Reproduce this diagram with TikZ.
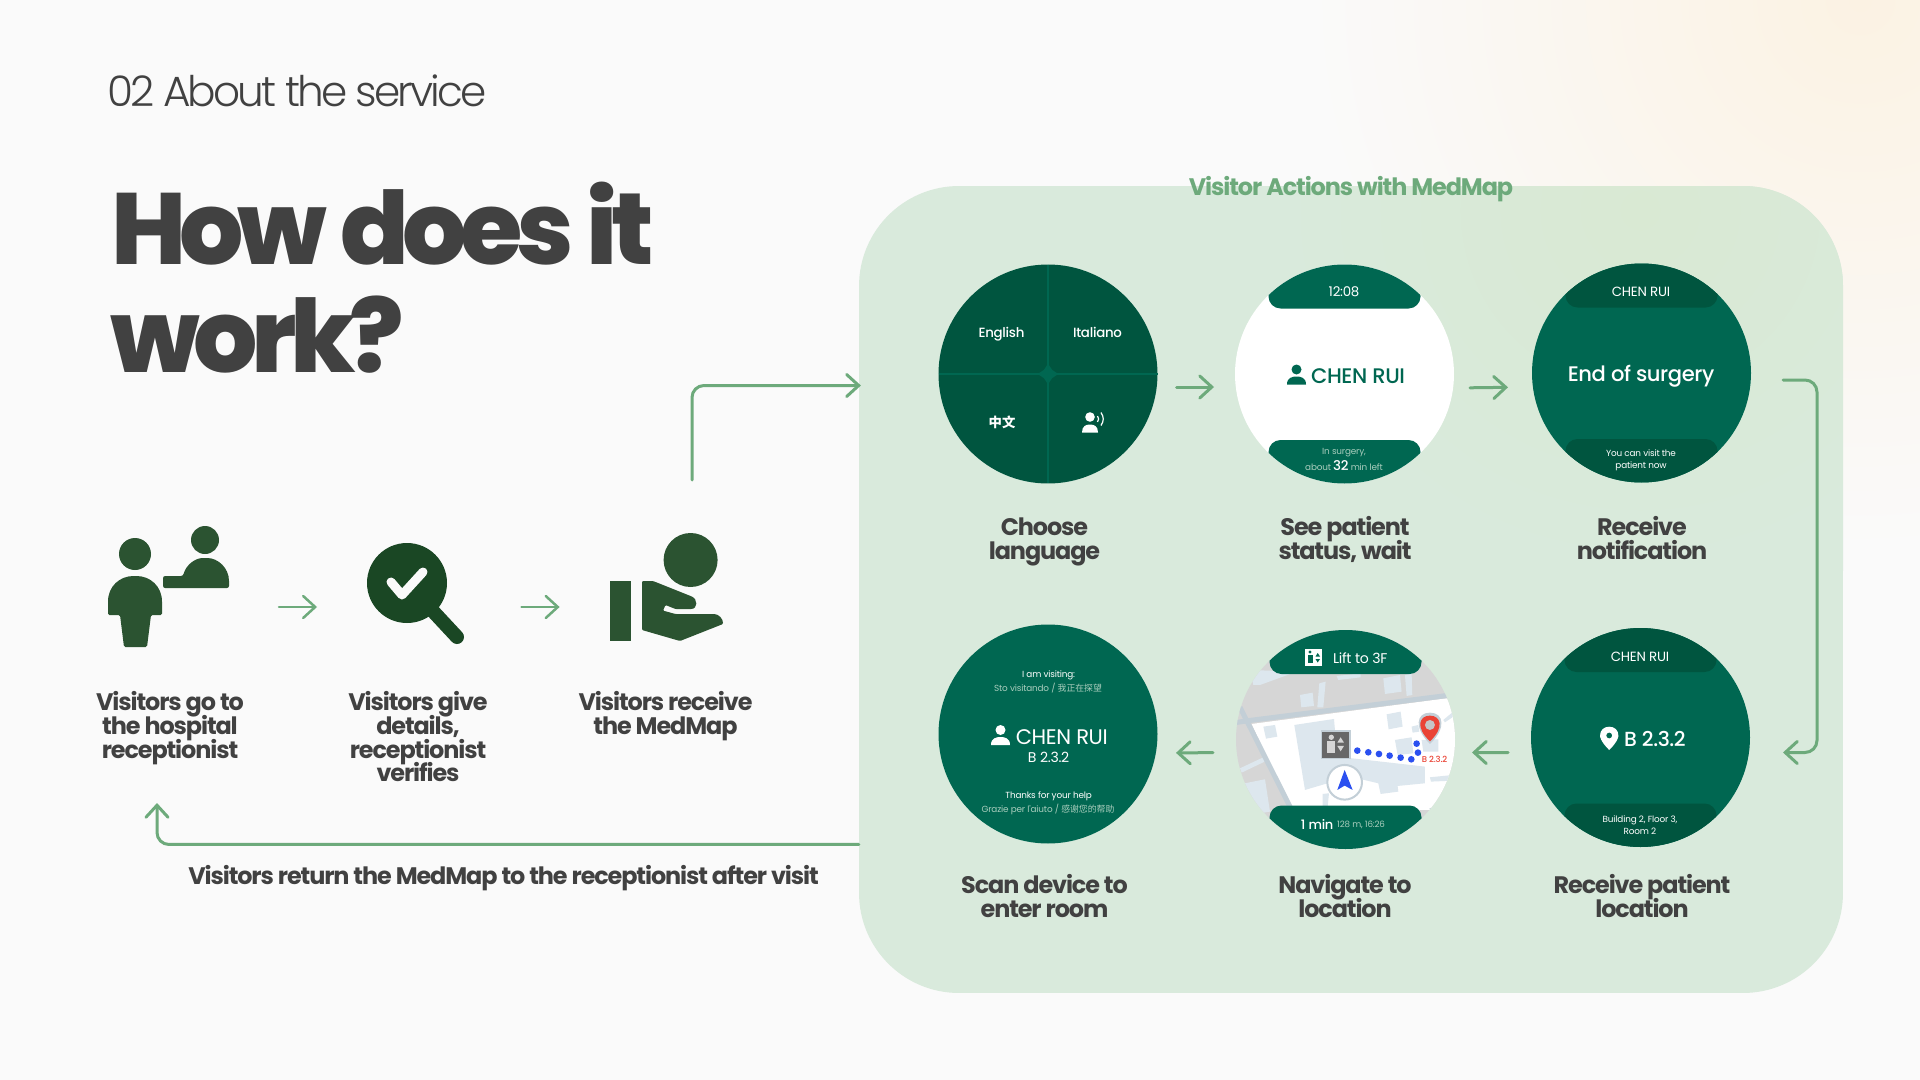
\documentclass[tikz,border=0pt]{standalone}
\usepackage{fontspec}
\usepackage{tikz}
\usetikzlibrary{arrows.meta,calc,shapes.geometric}
\setmainfont{Poppins}
\newfontfamily\lightface{Poppins Light}[LetterSpace=-6.8]
\newfontfamily\semiface{Poppins}[UprightFont=* Bold,LetterSpace=-4.6]
\newfontfamily\heavyface{Poppins ExtraBold}[LetterSpace=-6.35]
\newfontfamily\watchface{Poppins}[LetterSpace=-2]
\newfontfamily\watchmed{Poppins Medium}[LetterSpace=-2]
\newfontfamily\cjkface{Noto Sans CJK SC}
\lineskiplimit=-50pt
\definecolor{pagebg}{HTML}{FAFAFA}
\definecolor{glow}{HTML}{FBF2E3}
\definecolor{panelgreen}{HTML}{D9EADC}
\definecolor{panelglow}{HTML}{D9E9D3}
\definecolor{flowgreen}{HTML}{6DAA7B}
\definecolor{inkgrey}{HTML}{414141}
\definecolor{watchdark}{HTML}{00553F}
\definecolor{watchmid}{HTML}{006751}
\definecolor{softtext}{HTML}{A9CDBD}
\definecolor{iconmoss}{HTML}{2B5331}
\definecolor{iconpine}{HTML}{1A4724}
\definecolor{mapgrey}{HTML}{D6D6D6}
\definecolor{maplot}{HTML}{DDE7EE}
\definecolor{maproad}{HTML}{C3CFD7}
\definecolor{navblue}{HTML}{2B50F0}
\definecolor{pinred}{HTML}{EA4335}
\tikzset{
  flow/.style={draw=flowgreen,line width=0.15cm,line cap=round,rounded corners=0.6cm,
    -{Straight Barb[length=0.6cm,width=1.1cm,line cap=round]}},
  watch/.style={circle,minimum size=10.95cm,inner sep=0pt,outer sep=0pt},
  stepicon/.style={inner sep=0pt,outer sep=0pt},
  stepcap/.style={font=\semiface\fontsize{34}{34}\selectfont,text=inkgrey,align=center,inner sep=0pt,anchor=north},
  watchtxt/.style={text=white,inner sep=0pt,align=center,font=\watchface\fontsize{19}{19}\selectfont},
  smalltxt/.style={watchtxt,font=\watchface\fontsize{12.6}{17.4}\selectfont},
  softtxt/.style={smalltxt,text=softtext},
  mapblock/.style={fill=maplot}
}
\begin{document}
\begin{tikzpicture}[x=0.05cm,y=-0.05cm,>=Latex]
  \def\Rw{109.5}
  % person mark: x, y of the head, colour
  \def\PersonMark#1#2#3{
    \fill[#3] (#1,#2) circle[radius=5];
    \fill[#3] (#1-9.5,#2+15) .. controls (#1-9.5,#2+8) and (#1-4,#2+7) .. (#1,#2+7)
      .. controls (#1+4,#2+7) and (#1+9.5,#2+8) .. (#1+9.5,#2+15) -- cycle;
  }
  % bands at top and bottom of a watch face
  \def\WatchBands#1#2{
    \begin{scope}
      \clip (#1.center) circle[radius=\Rw];
      \fill[#2,rounded corners=0.6cm] ($(#1.center)+(-76,-130)$) rectangle ($(#1.center)+(76,-65.5)$);
      \fill[#2,rounded corners=0.6cm] ($(#1.center)+(-76,66)$) rectangle ($(#1.center)+(76,130)$);
    \end{scope}
  }
  \useasboundingbox (0,0) rectangle (1920,1080);

  % ================= page and panel =================
  \fill[pagebg] (0,0) rectangle (1920,1080);
  \begin{scope}
    \clip (0,0) rectangle (1920,1080);
    \shade[inner color=glow,outer color=pagebg] (1310,-550) rectangle (2410,550);
  \end{scope}
  \node[fill=panelgreen,rounded corners=5cm,minimum width=49.2cm,minimum height=40.35cm,inner sep=0pt] (panel) at (1351,589.5) {};
  \begin{scope}
    \clip[rounded corners=5cm] (859,186) rectangle (1843,993);
    \shade[inner color=panelglow,outer color=panelgreen] (1280,-150) rectangle (2000,570);
  \end{scope}
  \node[font=\semiface\fontsize{34}{34}\selectfont,text=flowgreen,inner sep=0pt] (paneltitle) at (1351,189) {Visitor Actions with MedMap};

  % ================= headings =================
  \node[anchor=base west,inner sep=0pt,text=inkgrey,font=\lightface\fontsize{60}{60}\selectfont] (section) at (107,106.5) {02 About the service};
  \node[anchor=base west,inner sep=0pt,text=inkgrey,font=\heavyface\fontsize{144}{144}\selectfont] (headone) at (111,264) {How does it};
  \node[anchor=base west,inner sep=0pt,text=inkgrey,font=\heavyface\fontsize{144}{144}\selectfont] (headtwo) at (110,372) {work?};

  % ================= left icons =================
  \node[stepicon,minimum width=6cm,minimum height=6cm] (visitor) at (168,590) {};
  \node[stepicon,minimum width=4.9cm,minimum height=6cm] (details) at (416,590) {};
  \node[stepicon,minimum width=5.7cm,minimum height=6cm] (medmap) at (666,590) {};
  % visitor and receptionist
  \fill[iconmoss] (135,554) circle[radius=16];
  \fill[iconmoss,rounded corners=2pt] (108,615) -- (108,603) .. controls (108,586) and (120,576) .. (135,576)
    .. controls (150,576) and (162,586) .. (162,603) -- (162,615) -- (151,615) -- (147,647) -- (124,647) -- (120,615) -- cycle;
  \fill[iconmoss] (205,540) circle[radius=14];
  \fill[iconmoss,rounded corners=3pt] (163,576) -- (183,576) .. controls (186,565) and (195,558) .. (205,558)
    .. controls (218,558) and (229,568) .. (229,583) -- (229,588) -- (163,588) -- cycle;
  % magnifier
  \draw[iconpine,line width=0.7cm,line cap=round] (430,608) -- (457,637);
  \fill[iconpine] (407,583) circle[radius=40];
  \draw[pagebg,line width=0.45cm,line cap=round,line join=round] (391,582) -- (402,595) -- (423,572);
  % hand with device
  \fill[iconmoss] (690.6,560) circle[radius=27];
  \fill[iconmoss] (609.5,581) rectangle (631,641);
  \fill[iconmoss,rounded corners=1.5pt] (642,581) -- (653,581) -- (690.6,596) .. controls (698,599) and (698,609) .. (690,609)
    -- (675.4,609) -- (665.5,605) -- (663,610.6) -- (675.4,614) -- (713,614) .. controls (719,614) and (723,619) .. (723,624)
    -- (680,641) -- (642,630) -- cycle;
  \draw[flow,line width=0.125cm,shorten <=2.55cm,shorten >=2.5cm] ([yshift=-0.85cm]visitor.east) -- ([yshift=-0.85cm]details.west);
  \draw[flow,line width=0.125cm,shorten <=2.825cm,shorten >=2.47cm] ([yshift=-0.85cm]details.east) -- ([yshift=-0.85cm]medmap.west);

  % ================= left captions =================
  \node[stepcap] (capvisit) at (170,691) {Visitors go to\\the hospital\\receptionist};
  \node[stepcap] (capgive) at (418,691) {Visitors give\\details,\\receptionist\\verifies};
  \node[stepcap] (capget) at (665.5,691) {Visitors receive\\the MedMap};
  \node[stepcap] (capback) at (503.5,865) {Visitors return the MedMap to the receptionist after visit};

  % ================= watch 1: language =================
  \node[watch,fill=watchdark] (lang) at (1048,374) {};
  \draw[watchmid,line width=0.1cm] (lang.north) -- (lang.south);
  \draw[watchmid,line width=0.1cm] (lang.west) -- (lang.east);
  \fill[watchmid] (1034,374) .. controls (1041.7,374) and (1048,367.7) .. (1048,360)
    .. controls (1048,367.7) and (1054.3,374) .. (1062,374)
    .. controls (1054.3,374) and (1048,380.3) .. (1048,388)
    .. controls (1048,380.3) and (1041.7,374) .. (1034,374) -- cycle;
  \node[watchtxt,font=\watchmed\fontsize{19}{19}\selectfont] (english) at (1001.5,334) {English};
  \node[watchtxt,font=\watchmed\fontsize{19}{19}\selectfont] (italiano) at (1097.5,332) {Italiano};
  \node[watchtxt,font=\cjkface\bfseries\fontsize{19}{19}\selectfont] (zhong) at (1002,422.7) {中文};
  \fill[white] (1090,417) circle[radius=4.8];
  \fill[white] (1082,432.5) .. controls (1082,426) and (1086,424.5) .. (1090,424.5)
    .. controls (1094,424.5) and (1098,426) .. (1098,432.5) -- cycle;
  \draw[white,line width=0.06cm] (1097.5,416) .. controls (1099,418) and (1099,420) .. (1097.5,422);
  \draw[white,line width=0.06cm] (1101,412.5) .. controls (1104,417) and (1104,421) .. (1101,425.5);

  % ================= watch 2: status =================
  \node[watch,fill=white] (status) at (1344.5,374) {};
  \WatchBands{status}{watchmid}
  \node[watchtxt] (clock) at (1344,292) {12:08};
  \PersonMark{1296.5}{369.5}{watchmid}
  \node[anchor=west,inner sep=0pt,text=watchmid,font=\watchmed\fontsize{30}{30}\selectfont] (statusname) at (1311,376) {CHEN RUI};
  \node[softtxt] (insurgery) at (1344,453) {In surgery,};
  \node[softtxt] (minleft) at (1344,466) {about {\textcolor{white}{\watchmed\fontsize{19}{19}\selectfont 32}} min left};

  % ================= watch 3: notification =================
  \node[watch,fill=watchmid] (notify) at (1641.5,373) {};
  \WatchBands{notify}{watchdark}
  \node[watchtxt] (notifyname) at (1641,292) {CHEN RUI};
  \node[watchtxt,font=\watchmed\fontsize{30}{30}\selectfont] (endsurgery) at (1641,376.5) {End of surgery};
  \node[smalltxt] (visitnow) at (1641,460) {You can visit the\\patient now};

  % ================= watch 4: scan =================
  \node[watch,fill=watchmid] (scan) at (1048,734) {};
  \node[smalltxt] (visiting) at (1048.6,675) {I am visiting:};
  \node[softtxt] (visitingit) at (1048,688) {Sto visitando / {\cjkface 我正在探望}};
  \PersonMark{1000.5}{730}{white}
  \node[anchor=west,inner sep=0pt,text=white,font=\watchface\fontsize{30}{30}\selectfont] (scanname) at (1015.7,737) {CHEN RUI};
  \node[watchtxt,font=\watchface\fontsize{20}{20}\selectfont] (scanroom) at (1048.6,757.5) {B 2.3.2};
  \node[smalltxt] (thanks) at (1048.6,796) {Thanks for your help};
  \node[softtxt] (thanksit) at (1048,809) {Grazie per l'aiuto / {\cjkface 感谢您的帮助}};

  % ================= watch 5: map =================
  \node[watch,fill=mapgrey] (nav) at (1345.5,739.5) {};
  \begin{scope}
    \clip (nav.center) circle[radius=\Rw];
    % map coordinates follow the crop of this face
    \begin{scope}[shift={(1230,620)},x=0.016667cm,y=-0.016667cm]
      \fill[white] (65,312) -- (650,235) -- (720,300) -- (720,570) -- (185,570) -- cycle;
      \fill[mapblock] (60,150) -- (200,155) -- (90,195) -- (70,195) -- cycle;
      \fill[mapblock] (320,168) -- (392,160) -- (392,172) -- (325,180) -- cycle;
      \fill[mapblock] (460,175) -- (510,165) -- (515,215) -- (465,222) -- cycle;
      \fill[mapblock] (525,165) -- (545,160) -- (547,225) -- (530,228) -- cycle;
      \fill[mapblock] (210,225) -- (248,218) -- (252,258) -- (214,262) -- cycle;
      \fill[mapblock] (268,190) -- (287,185) -- (280,262) -- (262,262) -- cycle;
      \fill[mapblock] (100,320) -- (135,315) -- (142,350) -- (108,356) -- cycle;
      \fill[mapblock] (193,315) -- (312,297) -- (322,410) -- (585,440) -- (585,490) -- (503,498)
        -- (505,515) -- (452,522) -- (445,490) -- (360,470) -- (225,510) -- cycle;
      \fill[mapblock] (470,283) -- (512,275) -- (518,320) -- (476,328) -- cycle;
      \fill[mapblock] (495,360) -- (545,352) -- (550,400) -- (503,405) -- cycle;
      \fill[mapblock] (545,320) -- (565,315) -- (568,335) -- (548,338) -- cycle;
      \fill[mapblock] (575,360) -- (625,358) -- (625,395) -- (580,395) -- cycle;
      \fill[mapblock] (600,472) -- (670,465) -- (670,482) -- (603,485) -- cycle;
      \fill[mapblock] (640,300) -- (670,275) -- (675,287) -- (645,307) -- cycle;
      \fill[mapblock] (278,522) -- (297,520) -- (293,560) -- (278,560) -- cycle;
      \fill[mapblock] (45,490) -- (105,478) -- (120,575) -- (60,585) -- cycle;
      \fill[mapblock] (30,445) -- (100,412) -- (104,425) -- (35,458) -- cycle;
      \draw[maproad,line width=0.25cm] (-10,312) -- (55,302) -- (640,228) -- (720,220);
      \draw[maproad,line width=0.25cm] (30,262) -- (185,570);
      \draw[maproad,line width=0.25cm] (600,572) -- (680,562);
      % lift marker
      \fill[gray!60!black!85,draw=maproad,line width=0.08cm] (274,333) rectangle (360,416);
      \fill[mapgrey] (304,352) circle[radius=8];
      \fill[mapgrey] (291,364) rectangle (316,400);
      \fill[mapgrey] (322,368) -- (342,368) -- (332,352) -- cycle;
      \fill[mapgrey] (322,378) -- (342,378) -- (332,394) -- cycle;
      % route
      \foreach \px/\py in {382/392,415/397,447/402,479/407,512/413,544/418,564/398,560/371}
        \fill[navblue] (\px,\py) circle[radius=10];
      % own position
      \draw[maproad,fill=white,line width=0.1cm] (344,487) circle[radius=52];
      \fill[navblue] (344,450) -- (368,510) -- (344,497) -- (322,510) -- cycle;
      % destination pin
      \fill[maproad] (600,278) .. controls (642,278) and (650,325) .. (600,372) .. controls (552,325) and (558,278) .. (600,278) -- cycle;
      \fill[pinred] (600,287) .. controls (632,287) and (645,322) .. (600,364) .. controls (555,322) and (568,287) .. (600,287) -- cycle;
      \fill[mapgrey!80!gray] (600,315) circle[radius=15];
    \end{scope}
  \end{scope}
  \node[inner sep=0pt,text=pinred,font=\watchmed\fontsize{12}{12}\selectfont] (pinroom) at (1434.5,759) {B 2.3.2};
  \WatchBands{nav}{watchmid}
  \fill[white] (1305,649) rectangle (1322,666);
  \fill[watchmid] (1310,652) circle[radius=1.7];
  \fill[watchmid] (1307.5,654.5) rectangle (1312.5,663);
  \fill[watchmid] (1315.5,656.5) -- (1320,656.5) -- (1317.7,653) -- cycle;
  \fill[watchmid] (1315.5,659) -- (1320,659) -- (1317.7,662.5) -- cycle;
  \node[watchtxt,anchor=west,font=\watchface\fontsize{20}{20}\selectfont] (lifttext) at (1333,658) {Lift to 3F};
  \node[watchtxt,anchor=west,font=\watchmed\fontsize{18.5}{18.5}\selectfont] (minutes) at (1300.7,824) {1 min};
  \node[softtxt,anchor=west,font=\watchface\fontsize{12.4}{12.4}\selectfont] (distance) at (1337,825) {128 m, 16:26};

  % ================= watch 6: location =================
  \node[watch,fill=watchmid] (locate) at (1640.5,737.5) {};
  \WatchBands{locate}{watchdark}
  \node[watchtxt] (locatename) at (1640,657) {CHEN RUI};
  \fill[white,even odd rule] (1609.2,750) .. controls (1600,741) and (1600,736) .. (1600,735.8)
    .. controls (1600,730) and (1604,726.7) .. (1609.2,726.7)
    .. controls (1614.5,726.7) and (1618.4,730) .. (1618.4,735.8)
    .. controls (1618.4,736) and (1618.4,741) .. (1609.2,750) -- cycle
    (1609.2,735.5) circle[radius=3];
  \node[anchor=west,inner sep=0pt,text=white,font=\watchmed\fontsize{29}{29}\selectfont] (locateroom) at (1624,738.5) {B 2.3.2};
  \node[smalltxt] (building) at (1640,825) {Building 2, Floor 3,\\Room 2};

  % ================= captions in the panel =================
  \node[stepcap] (capchoose) at (1044.5,518) {Choose\\language};
  \node[stepcap] (capsee) at (1345,516) {See patient\\status, wait};
  \node[stepcap] (capnotify) at (1642,516) {Receive\\notification};
  \node[stepcap] (capscan) at (1044.5,874.5) {Scan device to\\enter room};
  \node[stepcap] (capnav) at (1345,874.5) {Navigate to\\location};
  \node[stepcap] (caplocate) at (1642,874.5) {Receive patient\\location};

  % ================= connectors =================
  \draw[flow,shorten <=0.95cm,shorten >=1.05cm] ([yshift=-0.65cm]lang.east) -- ([yshift=-0.65cm]status.west);
  \draw[flow,shorten <=0.8cm,shorten >=1.2cm] ([yshift=-0.7cm]status.east) -- ([yshift=-0.7cm]notify.west);
  \draw[flow,shorten <=1.6cm,shorten >=1.65cm] ([yshift=-0.35cm]notify.east) -- ++(66,0) |- ([yshift=-0.75cm]locate.east);
  \draw[flow,shorten <=1.15cm,shorten >=0.85cm] ([yshift=-0.75cm]locate.west) -- ([yshift=-0.65cm]nav.east);
  \draw[flow,shorten <=1.15cm,shorten >=0.925cm] ([yshift=-0.65cm]nav.west) -- ([yshift=-0.95cm]scan.east);
  \coordinate (medmapout) at (692,480);
  \draw[flow,shorten >=-0.1cm] (medmapout) |- ([yshift=10.2cm]panel.west);
  \coordinate (visitorback) at (157,803);
  \draw[flow] ([yshift=-12.75cm]panel.west) -| (visitorback);
\end{tikzpicture}
\end{document}
